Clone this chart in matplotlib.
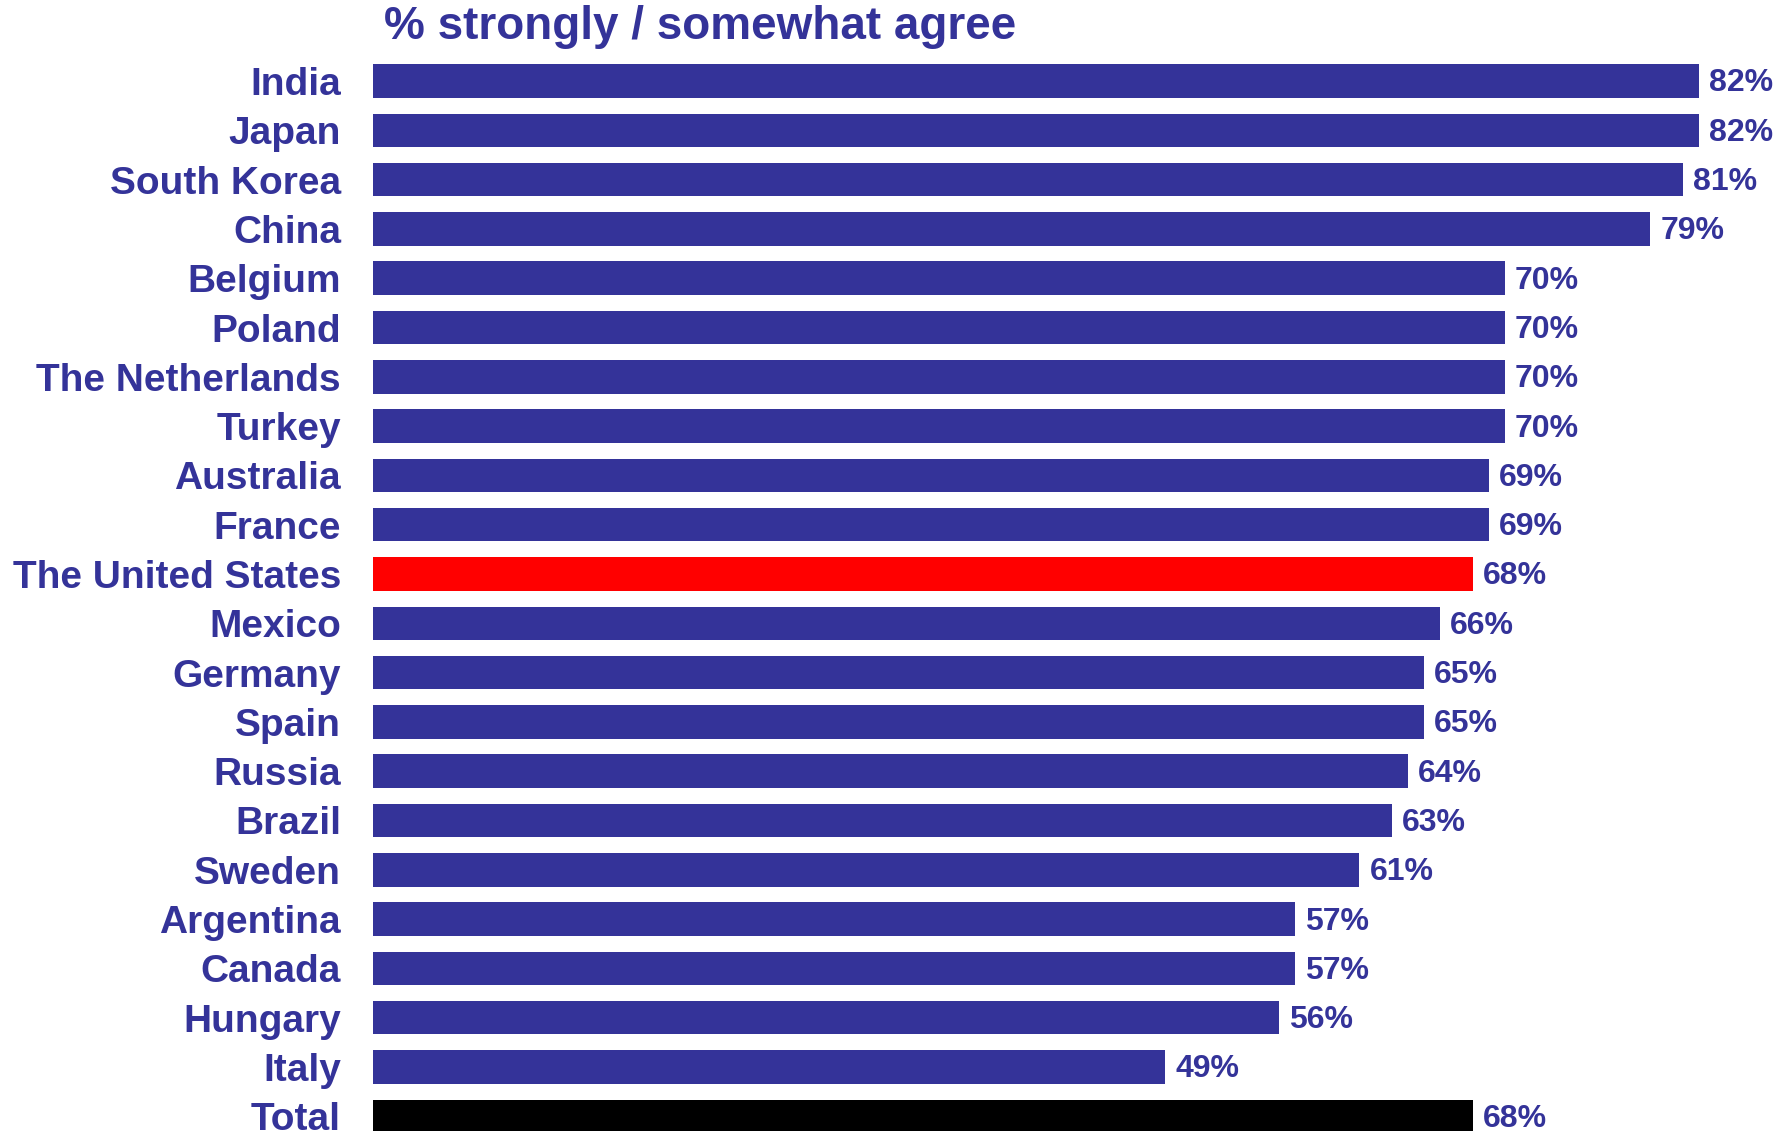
import matplotlib.pyplot as plt

countries = ["India", "Japan", "South Korea", "China", "Belgium", "Poland",
             "The Netherlands", "Turkey", "Australia", "France",
             "The United States", "Mexico", "Germany", "Spain", "Russia",
             "Brazil", "Sweden", "Argentina", "Canada", "Hungary", "Italy",
             "Total"]
values = [82, 82, 81, 79, 70, 70, 70, 70, 69, 69, 68, 66, 65, 65, 64, 63,
          61, 57, 57, 56, 49, 68]

navy = "#343399"
colors = []
for c in countries:
    if c == "The United States":
        colors.append("#ff0000")
    elif c == "Total":
        colors.append("#000000")
    else:
        colors.append(navy)

W, H = 1788, 1131
fig = plt.figure(figsize=(W / 100, H / 100), dpi=100)
x0 = 373
ax = fig.add_axes([x0 / W, 0, 1 - x0 / W, 1])

px_per_unit = (1699 - x0) / 82
step = 49.3
ypos = list(range(len(countries)))
ax.barh(ypos, values, height=0.68, color=colors)
ax.set_xlim(0, (W - x0) / px_per_unit)
ax.set_ylim(len(countries) - 1 + (H - (81 + 21 * step)) / step, -81 / step)

for y, v in zip(ypos, values):
    ax.text(v + 10 / px_per_unit, y + 0.05, f"{v}%", va="center", ha="left",
            fontsize=23, fontweight="bold", color=navy,
            family="Liberation Sans")

ax.set_yticks(ypos)
ax.set_yticklabels(countries, fontsize=28, fontweight="bold", color=navy,
                   family="Liberation Sans")
ax.tick_params(axis="y", length=0, pad=23)
ax.set_xticks([])
for s in ax.spines.values():
    s.set_visible(False)

fig.text(384 / W, 1 - 27 / H, "% strongly / somewhat agree", ha="left",
         va="center", fontsize=33, fontweight="bold", color=navy,
         family="Liberation Sans")

fig.savefig("out.png", dpi=100)
